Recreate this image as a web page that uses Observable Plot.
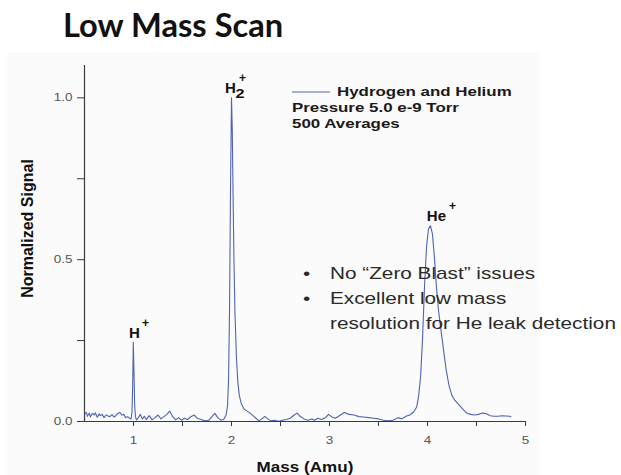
<!DOCTYPE html>
<html>
<head>
<meta charset="utf-8">
<script src="https://cdn.jsdelivr.net/npm/d3@7"></script>
<script src="https://cdn.jsdelivr.net/npm/@observablehq/plot@0.6"></script>
<style>
  html, body { margin: 0; padding: 0; background: #ffffff; }
  #page { position: relative; width: 621px; height: 475px; overflow: hidden; background: #ffffff; }
  #panel { position: absolute; left: 7px; top: 52px; width: 533px; height: 423px; background: #fbfbfb; }
  #title { position: absolute; left: 63px; top: 9px; font-family: Lato, sans-serif; font-weight: 700;
           font-size: 32px; line-height: 32px; color: #111; white-space: nowrap; transform-origin: 0 0; transform: scaleX(1.02); }
  #chart { position: absolute; left: 0; top: 50px; }
  .ov { position: absolute; white-space: nowrap; transform-origin: 0 0; }
  .leg { font-family: "Liberation Sans", Arial, sans-serif; font-weight: 700; font-size: 13px; line-height: 13px;
         color: #1a1a1a; transform: scaleX(1.3); }
  .note { font-family: "Liberation Sans", Arial, sans-serif; font-size: 17px; line-height: 17px; color: #2a2a2a;
          transform: scaleX(1.22); }
</style>
</head>
<body>
<div id="page">
  <div id="panel"></div>
  <div id="title"></div>
  <div id="chart"></div>
</div>
<script>
// ---- data ----
const chartTitle = "Low Mass Scan";
const seriesName = "Hydrogen and Helium";
const infoLines = ["Pressure 5.0 e-9 Torr", "500 Averages"];
const notes = ["No \u201CZero Blast\u201D issues", "Excellent low mass", "resolution for He leak detection"];
const xLabel = "Mass (Amu)";
const yLabel = "Normalized Signal";

const majorX = [1, 2, 3, 4, 5];
const minorX = [1.5, 2.5, 3.5, 4.5];
const majorY = [0, 0.5, 1.0];
const minorY = [0.25, 0.75];

const mass = [
  0.50,0.52,0.53,0.55,0.56,0.58,0.60,0.61,0.63,0.65,0.66,0.68,0.70,0.72,0.74,0.76,0.78,0.80,0.82,0.84,
  0.86,0.88,0.90,0.92,0.94,0.96,0.975,
  0.985,0.992,0.998,1.005,1.012,1.02,1.03,
  1.05,1.07,1.09,1.11,1.13,1.16,1.19,1.22,1.25,1.28,1.31,1.34,1.37,1.40,1.43,1.46,1.49,1.52,1.55,1.58,
  1.62,1.65,1.69,1.73,1.77,1.80,1.83,1.86,1.89,1.92,1.945,
  1.96,1.97,1.98,1.99,2.00,2.008,2.016,2.025,2.035,2.05,2.065,2.08,2.10,2.13,2.16,2.19,2.22,2.25,2.28,
  2.31,2.34,2.37,2.40,2.44,2.48,2.52,2.56,2.60,2.64,2.67,2.70,2.74,2.78,2.82,2.85,2.88,2.92,2.96,2.99,
  3.02,3.06,3.10,3.15,3.20,3.25,3.30,3.35,3.40,3.45,3.50,3.55,3.60,3.65,3.70,3.74,3.78,3.82,3.86,3.89,
  3.91,3.93,3.95,3.97,3.99,4.01,4.03,4.05,4.07,4.09,4.11,4.13,4.16,4.19,4.22,4.25,4.28,4.31,4.34,4.37,
  4.40,4.44,4.48,4.52,4.56,4.60,4.64,4.68,4.72,4.76,4.80,4.84,4.85
];
const signal = [
  0.022,0.028,0.016,0.026,0.014,0.025,0.020,0.027,0.013,0.024,0.018,0.022,0.012,0.020,0.017,0.015,0.021,0.014,0.018,0.025,
  0.028,0.020,0.022,0.012,0.015,0.010,0.008,
  0.030,0.120,0.245,0.150,0.050,0.015,0.005,
  0.012,0.022,0.008,0.016,0.006,0.018,0.005,0.012,0.020,0.008,0.015,0.022,0.032,0.015,0.005,0.012,0.004,0.010,0.006,0.014,
  0.020,0.010,0.006,0.002,0.004,0.015,0.025,0.012,0.004,0.006,0.020,
  0.050,0.130,0.350,0.720,1.000,0.900,0.700,0.500,0.340,0.200,0.120,0.080,0.055,0.038,0.032,0.026,0.018,0.010,0.002,
  0.008,0.016,0.008,0.002,0.004,0.001,0.004,0.006,0.010,0.020,0.026,0.016,0.008,0.004,0.008,0.004,0.010,0.006,0.012,0.022,
  0.015,0.010,0.018,0.028,0.022,0.020,0.015,0.014,0.012,0.010,0.008,0.004,0.002,0.004,0.012,0.008,0.016,0.020,0.030,0.045,
  0.080,0.140,0.260,0.420,0.540,0.595,0.605,0.580,0.510,0.420,0.350,0.300,0.230,0.160,0.110,0.080,0.065,0.055,0.045,0.035,
  0.026,0.022,0.020,0.022,0.026,0.024,0.018,0.016,0.016,0.018,0.017,0.016,0.015
];

const peakMass = [1.0, 2.0, 4.02];
const peakHeight = [0.245, 1.0, 0.605];
const ionName = ["H", "H", "He"];
const ionSub = ["", "2", ""];
const ionCharge = ["+", "+", "+"];

// ---- styles ----
const lineColor = "#5063b6";
const axisColor = "#3a3a3a";
const labelDx = [1, -1, 7];
const chargeDx = [12, 11, 23];

const rows = mass.map((m, i) => ({mass: m, signal: signal[i]}));
const peaks = peakMass.map((m, i) => ({mass: m, height: peakHeight[i], name: ionName[i], sub: ionSub[i], charge: ionCharge[i]}));

const peakMarks = [];
peaks.forEach((p, i) => {
  peakMarks.push(Plot.text([p], {x: "mass", y: "height", text: "name", dx: labelDx[i], dy: -4.6,
    lineAnchor: "bottom", textAnchor: "middle", fontSize: 15, fontWeight: "bold", fill: "#111"}));
  if (p.sub) peakMarks.push(Plot.text([p], {x: "mass", y: "height", text: "sub", dx: 8.5, dy: 0.5,
    lineAnchor: "bottom", textAnchor: "middle", fontSize: 12, fontWeight: "bold", fill: "#111"}));
  peakMarks.push(Plot.text([p], {x: "mass", y: "height", text: "charge", dx: chargeDx[i], dy: -15.5,
    lineAnchor: "bottom", textAnchor: "middle", fontSize: 12, fontWeight: "bold", fill: "#111"}));
});

const fmtY = d3.format(".1f");
const svg = Plot.plot({
  width: 621,
  height: 425,
  marginLeft: 84,
  marginRight: 96,
  marginTop: 15,
  marginBottom: 54,
  style: {background: "transparent", fontFamily: "Liberation Sans, Arial, sans-serif", overflow: "visible"},
  x: {domain: [0.5, 5], axis: null},
  y: {domain: [0, 1.1], axis: null},
  marks: [
    Plot.line(rows, {x: "mass", y: "signal", stroke: lineColor, strokeWidth: 1.1, curve: "linear"}),
    Plot.ruleY([0], {stroke: axisColor, strokeWidth: 1.2}),
    Plot.ruleX([0.5], {stroke: axisColor, strokeWidth: 1.2}),
    Plot.axisX(majorX, {tickSize: 5, tickPadding: 10, tickFormat: d => String(d), stroke: axisColor,
      fill: "#555", fontSize: 10, label: null}),
    Plot.axisX(minorX, {tickSize: 5, tickFormat: () => "", stroke: axisColor, label: null}),
    Plot.axisY(majorY, {tickSize: 7, tickPadding: 5, tickFormat: fmtY, stroke: axisColor,
      fill: "#555", fontSize: 10, label: null}),
    Plot.axisY(minorY, {tickSize: 7, tickFormat: () => "", stroke: axisColor, label: null}),
    Plot.text([xLabel], {frameAnchor: "bottom", dy: 50, lineAnchor: "bottom", textAnchor: "middle", fontSize: 14,
      fontWeight: "bold", fill: "#111"}),
    Plot.text([yLabel], {frameAnchor: "left", dx: -57, dy: -15, rotate: -90, lineAnchor: "middle",
      textAnchor: "middle", fontSize: 16, fontWeight: "bold", fill: "#111"}),
    ...peakMarks
  ]
});

// widen tick labels and the x title about their own anchor points, like the reference's wide lettering
function widen(t, s) {
  const tr = t.getAttribute("transform");
  if (tr) { t.setAttribute("transform", tr + ` scale(${s},1)`); return; }
  const x = parseFloat(t.getAttribute("x")) || 0, y = parseFloat(t.getAttribute("y")) || 0;
  t.setAttribute("transform", `translate(${x},${y}) scale(${s},1) translate(${-x},${-y})`);
}
const tickTexts = new Set([...majorX.map(String), ...majorY.map(fmtY)]);
svg.querySelectorAll("text").forEach(t => {
  const s = t.textContent;
  if (tickTexts.has(s)) widen(t, 1.35);
  else if (s === xLabel) widen(t, 1.22);
});

document.getElementById("chart").appendChild(svg);
document.getElementById("title").textContent = chartTitle;

// legend and notes overlays
const page = document.getElementById("page");
const sw = document.createElementNS("http://www.w3.org/2000/svg", "svg");
sw.setAttribute("width", 40); sw.setAttribute("height", 4);
sw.style.position = "absolute"; sw.style.left = "291px"; sw.style.top = "90px";
const ln = document.createElementNS("http://www.w3.org/2000/svg", "line");
ln.setAttribute("x1", 1); ln.setAttribute("x2", 39); ln.setAttribute("y1", 2); ln.setAttribute("y2", 2);
ln.setAttribute("stroke", lineColor); ln.setAttribute("stroke-width", 1.2);
sw.appendChild(ln); page.appendChild(sw);

function addOv(cls, text, left, baseline, size) {
  const d = document.createElement("div");
  d.className = "ov " + cls;
  d.textContent = text;
  d.style.left = left + "px";
  d.style.top = (baseline - size * 0.9) + "px";
  page.appendChild(d);
}
addOv("leg", seriesName, 337, 97, 13);
addOv("leg", infoLines[0], 292, 113, 13);
addOv("leg", infoLines[1], 292, 129, 13);
notes.forEach((n, i) => {
  if (i < 2) addOv("note", "\u2022", 303, 280 + 25 * i, 17);
  addOv("note", n, 330, 280 + 25 * i, 17);
});
</script>
</body>
</html>
